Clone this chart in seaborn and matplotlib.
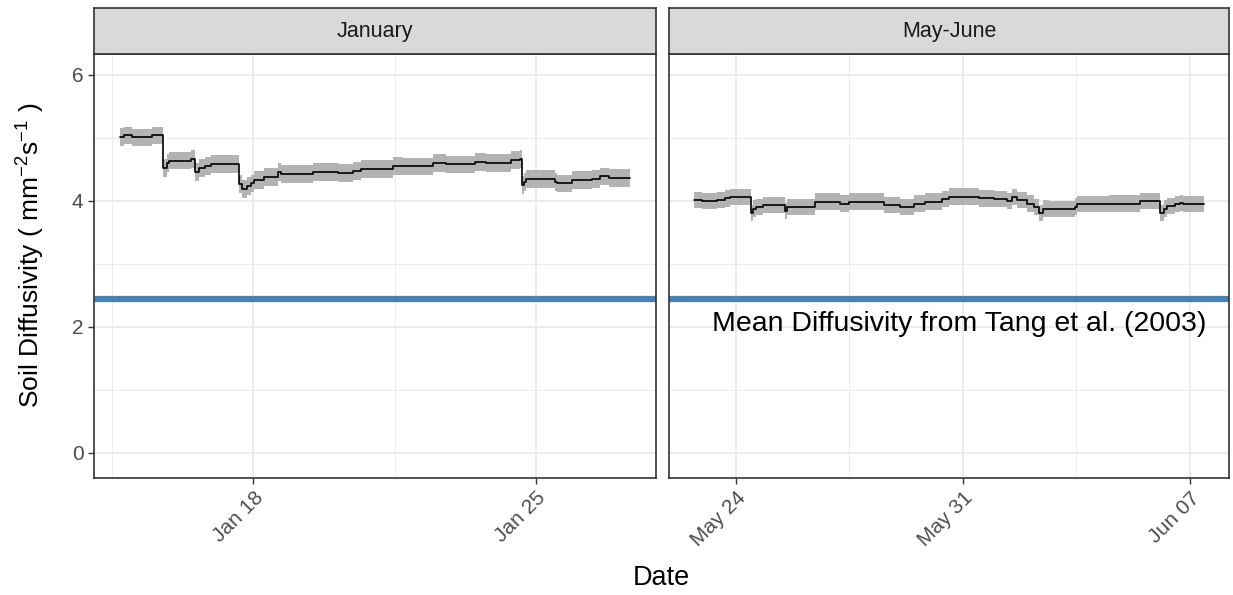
import numpy as np
import pandas as pd
import matplotlib
matplotlib.use('Agg')
import matplotlib.pyplot as plt
import matplotlib.dates as mdates
from matplotlib.ticker import FixedLocator
import seaborn as sns

# ---------------- data ----------------
# day-of-month (fractional) where each step value begins
jan_day = [14.68, 14.80, 14.99, 15.49, 15.76, 15.85, 15.90, 16.44, 16.56, 16.65,
           16.81, 16.94, 17.64, 17.72, 17.85, 17.93, 18.01, 18.26, 18.60, 18.68,
           19.47, 20.09, 20.46, 20.67, 21.46, 21.71, 22.45, 22.78, 23.49, 23.78,
           24.40, 24.60, 24.65, 24.72, 24.77, 25.48, 25.52, 25.89, 26.39, 26.60,
           26.81, 27.35]
jan_val = [5.02, 5.04, 5.01, 5.04, 4.52, 4.60, 4.64, 4.67, 4.46, 4.52,
           4.56, 4.59, 4.27, 4.19, 4.24, 4.28, 4.33, 4.38, 4.46, 4.43,
           4.46, 4.44, 4.48, 4.51, 4.56, 4.55, 4.60, 4.58, 4.62, 4.60,
           4.65, 4.67, 4.25, 4.30, 4.35, 4.30, 4.28, 4.33, 4.35, 4.39,
           4.36, 4.37]
# day counted from 1 May (32 = 1 June)
may_day = [22.72, 22.95, 23.41, 23.67, 23.82, 24.47, 24.54, 24.62, 24.85, 25.50,
           25.57, 26.45, 27.22, 27.48, 28.56, 29.07, 29.48, 29.84, 30.36, 30.56,
           31.49, 31.95, 32.36, 32.52, 32.67, 32.98, 33.19, 33.34, 33.49, 33.65,
           34.47, 34.52, 35.50, 36.48, 37.10, 37.20, 37.30, 37.56, 37.71, 37.81,
           38.43]
may_val = [4.02, 4.00, 4.02, 4.04, 4.06, 3.81, 3.88, 3.90, 3.94, 3.84,
           3.90, 3.99, 3.96, 3.99, 3.94, 3.90, 3.96, 3.99, 4.03, 4.07,
           4.04, 4.03, 4.00, 4.06, 4.02, 3.96, 3.90, 3.81, 3.88, 3.87,
           3.91, 3.95, 3.96, 4.00, 3.81, 3.88, 3.92, 3.95, 3.97, 3.95,
           3.95]
jan_band = 0.14
may_band = 0.13
tang_mean = 2.45
panel_titles = ['January', 'May-June']
jan_ticks = ['2018-01-18', '2018-01-25']
may_ticks = ['2018-05-24', '2018-05-31', '2018-06-07']
y_ticks = [0, 2, 4, 6]
y_minor = [1, 3, 5]
annot_text = 'Mean Diffusivity from Tang et al. (2003)'
annot_y = 2.04
annot_x = '2018-06-07 12:30'

# ---------------- style ----------------
sns.set_theme(style='white')
plt.rcParams['font.family'] = ['Liberation Sans', 'DejaVu Sans']
plt.rcParams['mathtext.fontset'] = 'custom'
plt.rcParams['mathtext.rm'] = 'Liberation Sans'
plt.rcParams['mathtext.it'] = 'Liberation Sans:italic'
plt.rcParams['mathtext.bf'] = 'Liberation Sans:bold'


def to_dates(start, days):
    return pd.Timestamp(start) + pd.to_timedelta(np.asarray(days) - 1, unit='D')


jan_df = pd.DataFrame({'Date': to_dates('2018-01-01', jan_day), 'D': jan_val})
may_df = pd.DataFrame({'Date': to_dates('2018-05-01', may_day), 'D': may_val})

W, H = 1233, 595
fig = plt.figure(figsize=(W / 100, H / 100), dpi=100)


def fx(px):
    return px / W


def fy(py):
    return 1 - py / H


panels = [(94, 656), (669, 1229)]
top, bottom, strip_top = 54, 478, 8
frames = [(jan_df, jan_band, jan_ticks), (may_df, may_band, may_ticks)]
GRID = '#ebebeb'
DARK = '#333333'

for i, ((l, r), (df, band, ticks)) in enumerate(zip(panels, frames)):
    ax = fig.add_axes([fx(l), fy(bottom), (r - l) / W, (bottom - top) / H])
    ax.set_facecolor('white')
    ax.fill_between(df['Date'], df['D'] - band, df['D'] + band, step='post',
                    color='#b3b3b3', lw=0, zorder=2)
    sns.lineplot(data=df, x='Date', y='D', ax=ax, color='black', lw=1.2,
                 drawstyle='steps-post', estimator=None, zorder=3)
    ax.axhline(tang_mean, color='#4682b4', lw=4.5, zorder=4)

    dmin, dmax = df['Date'].min(), df['Date'].max()
    pad = (dmax - dmin) * 0.05
    ax.set_xlim(dmin - pad, dmax + pad)
    ax.set_ylim(-0.397, 6.333)

    tick_dates = pd.to_datetime(ticks)
    major = mdates.date2num(tick_dates)
    minor = np.concatenate([major - 3.5, [major[-1] + 3.5]])
    ax.xaxis.set_major_locator(FixedLocator(major))
    ax.xaxis.set_minor_locator(FixedLocator(minor))
    ax.xaxis.set_major_formatter(mdates.DateFormatter('%b %d'))
    ax.yaxis.set_major_locator(FixedLocator(y_ticks))
    ax.yaxis.set_minor_locator(FixedLocator(y_minor))

    ax.grid(which='major', color=GRID, lw=1.3)
    ax.grid(which='minor', color=GRID, lw=0.7)
    ax.set_axisbelow(True)
    for s in ax.spines.values():
        s.set_color(DARK)
        s.set_linewidth(1.2)
        s.set_zorder(5)
    ax.tick_params(which='major', length=4, width=1, color=DARK,
                   labelcolor='#4d4d4d', labelsize=15)
    ax.tick_params(which='minor', length=0)
    ax.tick_params(axis='both', which='both', bottom=True, left=(i == 0),
                   labelleft=(i == 0))
    ax.tick_params(axis='x', which='minor', bottom=False)
    plt.setp(ax.get_xticklabels(), rotation=45, ha='right', va='top',
             rotation_mode='anchor')
    ax.set_xlabel('')
    ax.set_ylabel('')

    if i == 1:
        ax.text(pd.Timestamp(annot_x), annot_y, annot_text, ha='right',
                va='center', fontsize=20.5, color='black', zorder=6)

    sax = fig.add_axes([fx(l), fy(top), (r - l) / W, (top - strip_top) / H])
    sax.set_facecolor('#d9d9d9')
    sax.set_xticks([])
    sax.set_yticks([])
    for s in sax.spines.values():
        s.set_color(DARK)
        s.set_linewidth(1.2)
    sax.text(0.5, 0.5, panel_titles[i], transform=sax.transAxes, ha='center',
             va='center', fontsize=15.5, color='#1a1a1a')

fig.text(fx(661), fy(578), 'Date', ha='center', va='center', fontsize=19.5,
         color='black')
fig.text(fx(31), fy(255), r'Soil Diffusivity ( mm$^{-2}$s$^{-1}$ )',
         ha='center', va='center', rotation=90, fontsize=19, color='black')

fig.savefig('out.png', dpi=100)
